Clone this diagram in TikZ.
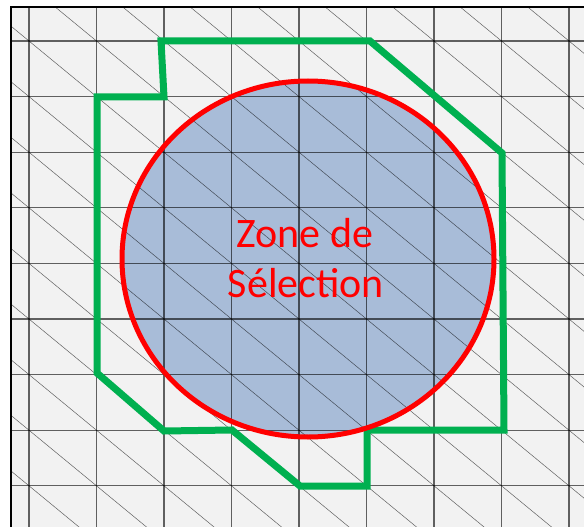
\documentclass[tikz,border=0pt]{standalone}
\usepackage{fontspec}
\newfontfamily\labelfont{Carlito}
\definecolor{bgpane}{RGB}{242,242,242}
\definecolor{zonefill}{RGB}{168,188,216}
\definecolor{zonered}{RGB}{255,0,0}
\definecolor{zonegreen}{RGB}{0,176,80}
\begin{document}
\begin{tikzpicture}[x=1pt,y=-1pt,
  gridline/.style={draw=black,opacity=0.6,line width=1.2pt},
  diagline/.style={draw=black,opacity=0.6,line width=0.5pt},
  frameline/.style={draw=black,line width=2.5pt},
  zonecircle/.style={draw=zonered,line width=5pt},
  zonepoly/.style={draw=zonegreen,line width=7pt,line join=miter},
  zonelabel/.style={text=zonered,font=\labelfont\fontsize{42}{50}\selectfont,anchor=base,inner sep=0pt}]
\useasboundingbox (0,0) rectangle (584,527);
\fill[white] (0,0) rectangle (584,527);
\fill[bgpane] (11,7) rectangle (584,527);
% selection zone fill
\fill[zonefill] (308,259) ellipse [x radius=186, y radius=178];
% grid and diagonals
\begin{scope}
\clip (11,7) rectangle (584,527);
\foreach \i in {0,...,8} {
  \draw[gridline] ({29+67.5*\i},7) -- ({29+67.5*\i},527);
  \draw[gridline] (11,{41+55.6*\i}) -- (584,{41+55.6*\i});
}
\foreach \i in {0,...,9} {
  \foreach \j in {0,...,9} {
    \draw[diagline] ({29+67.5*(\i-1)},{41+55.6*(\j-1)}) -- ({29+67.5*\i},{41+55.6*\j});
  }
}
\end{scope}
% frame (top and left)
\draw[frameline] (11,527) -- (11,7) -- (584,7);
% green polygon
\draw[zonepoly] (161,41) -- (370,41) -- (502,153) -- (504,430) -- (367,430) -- (367,486) -- (300,486) -- (232,430) -- (164,431) -- (97,373) -- (97,97) -- (164,97) -- cycle;
% red circle
\draw[zonecircle] (308,259) ellipse [x radius=186, y radius=178];
% label
\node[zonelabel] (l1) at (305,247) {Zone de};
\node[zonelabel] (l2) at (306,297) {Sélection};
\end{tikzpicture}
\end{document}
